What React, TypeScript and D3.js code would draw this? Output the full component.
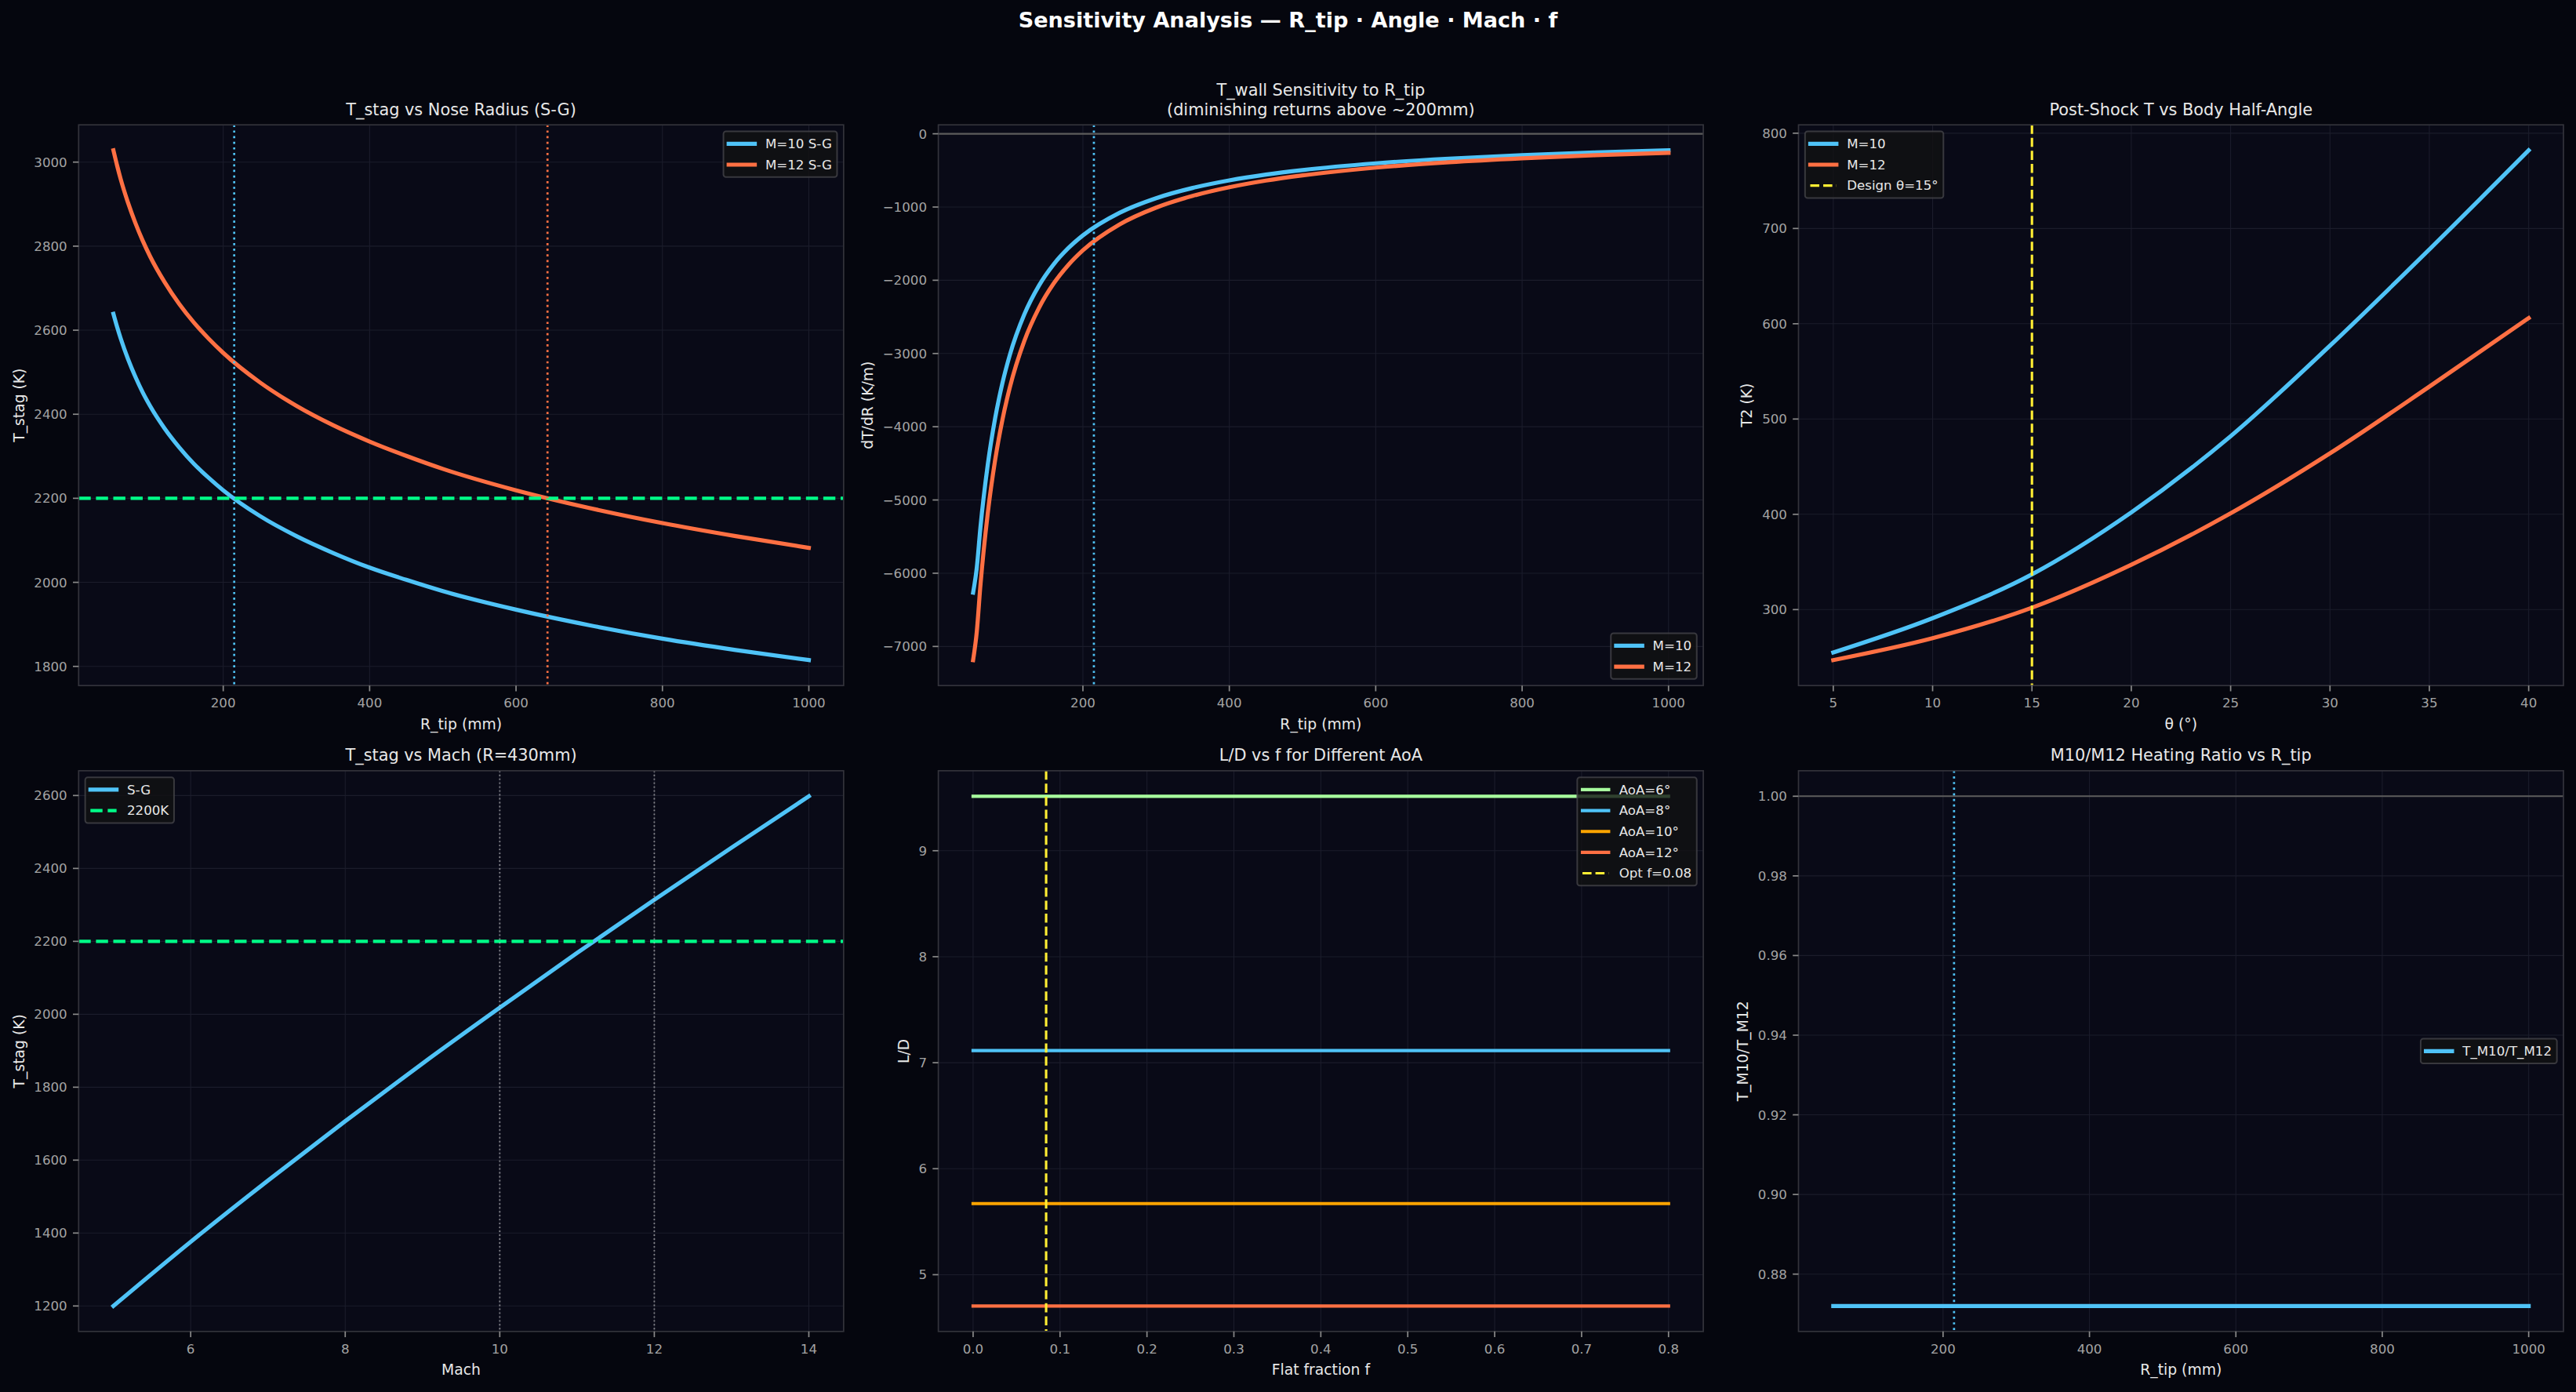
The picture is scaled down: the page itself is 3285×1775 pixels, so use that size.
import React from "react";
import * as d3 from "d3";

// nose radius sweep (mm) and stagnation temperature (K), Sutton-Graves
const rTipMm = [50, 55, 60, 70, 80, 90, 100, 120, 140, 160, 180, 200, 250, 300, 350, 400, 450, 500, 600, 700, 800, 900, 1000];
const tStagM10 = [2639, 2608, 2580, 2531, 2489, 2452, 2420, 2366, 2321, 2282, 2249, 2219, 2158, 2110, 2070, 2035, 2006, 1979, 1935, 1898, 1866, 1839, 1815];
const tStagM12 = [3028, 2992, 2959, 2903, 2855, 2813, 2776, 2714, 2662, 2618, 2580, 2546, 2476, 2420, 2374, 2335, 2301, 2270, 2219, 2177, 2141, 2110, 2082];

// wall temperature gradient dT/dR (K/m)
const dTdRM10 = [-6265, -5927, -5375, -4520, -3889, -3406, -3025, -2465, -2072, -1783, -1562, -1387, -1079, -879, -739, -636, -557, -495, -403, -339, -292, -255, -226];
const dTdRM12 = [-7186, -6800, -6165, -5184, -4461, -3907, -3470, -2827, -2377, -2045, -1792, -1591, -1238, -1008, -848, -730, -639, -568, -462, -389, -335, -293, -260];

// post-shock temperature vs body half-angle
const halfAngleDeg = [5, 10, 15, 20, 25, 30, 35, 40];
const t2M10 = [255, 291, 337, 402, 482, 577, 678, 782];
const t2M12 = [247, 270, 302, 347, 401, 464, 534, 606];

// stagnation temperature vs Mach at R = 430 mm
const machNumbers = [5, 6, 7, 8, 9, 10, 11, 12, 13, 14];
const tStagVsMach = [1200, 1376, 1544, 1707, 1865, 2018, 2168, 2314, 2457, 2598];

// L/D vs flat fraction for each angle of attack
const flatFraction = [0, 0.8];
const aoaDeg = [6, 8, 10, 12];
const liftToDrag = [9.514, 7.115, 5.671, 4.705];

// heating ratio M10 / M12
const ratioRMm = [50, 1000];
const heatingRatio = [0.872, 0.872];

// reference markers
const T_LIMIT = 2200;
const R_LIMIT_M10 = 215;
const R_LIMIT_M12 = 643;
const THETA_DESIGN = 15;
const F_OPT = 0.084;
const MACH_MARKS = [10, 12];

// tick values
const rTicks = [200, 400, 600, 800, 1000];
const tStagTicks = [1800, 2000, 2200, 2400, 2600, 2800, 3000];
const dTdRTicks = [-7000, -6000, -5000, -4000, -3000, -2000, -1000, 0];
const thetaTicks = [5, 10, 15, 20, 25, 30, 35, 40];
const t2Ticks = [300, 400, 500, 600, 700, 800];
const machTicks = [6, 8, 10, 12, 14];
const tMachTicks = [1200, 1400, 1600, 1800, 2000, 2200, 2400, 2600];
const fTicks = [0, 0.1, 0.2, 0.3, 0.4, 0.5, 0.6, 0.7, 0.8];
const ldTicks = [5, 6, 7, 8, 9];
const ratioTicks = [0.88, 0.9, 0.92, 0.94, 0.96, 0.98, 1.0];

// ---- styling ----
const FIG_W = 3285;
const FIG_H = 1775;
const FIG_BG = "#05060e";
const AX_BG = "#090a17";
const GRID = "#1b1c2b";
const SPINE = "#33333b";
const TICK_COLOR = "#8a8a8a";
const TICK_TEXT = "#a3a3a3";
const TEXT = "#e8e8e8";
const BLUE = "#4fc3f7";
const ORANGE = "#ff7043";
const GREEN = "#00ff88";
const YELLOW = "#ffee33";
const AOA_COLORS = ["#a8ff9e", BLUE, "#ffa500", ORANGE];
const FONT = '"DejaVu Sans", sans-serif';

const PT = 150 / 72;
const TICK_FS = 8 * PT;
const LABEL_FS = 9 * PT;
const TITLE_FS = 10 * PT;
const LEG_FS = 8 * PT;

const COL_X = [100.3, 1196.6, 2293.5];
const ROW_Y = [159.2, 982.8];
const AX_W = 975.5;
const AX_H = 715;

const measureCtx = document.createElement("canvas").getContext("2d");
function textWidth(s: string, size: number) {
  if (!measureCtx) return s.length * size * 0.6;
  measureCtx.font = `${size}px "DejaVu Sans"`;
  return measureCtx.measureText(s).width;
}

function padded(values: number[]): [number, number] {
  const [lo, hi] = d3.extent(values) as [number, number];
  const m = (hi - lo) * 0.05;
  return [lo - m, hi + m];
}

type Scale = d3.ScaleLinear<number, number>;

function linePath(xs: number[], ys: number[], x: Scale, y: Scale) {
  return (
    d3
      .line<number>()
      .x((_, i) => x(xs[i]))
      .y((d) => y(d))
      .curve(d3.curveMonotoneX)(ys) || ""
  );
}

type Stroke = { color: string; lw: number; dash?: "dashed" | "dotted"; opacity?: number };

function strokeProps(s: Stroke) {
  const w = s.lw * PT;
  let dasharray: string | undefined;
  if (s.dash === "dashed") dasharray = `${3.7 * w},${1.6 * w}`;
  if (s.dash === "dotted") dasharray = `${1 * w},${1.65 * w}`;
  return {
    stroke: s.color,
    strokeWidth: w,
    strokeDasharray: dasharray,
    strokeLinecap: (s.dash ? "butt" : "square") as "butt" | "square",
    strokeOpacity: s.opacity ?? 1,
    fill: "none",
  };
}

type LegendItem = Stroke & { label: string };
type LegendLoc = "upper right" | "upper left" | "lower right" | "center right";

function Legend({ loc, items }: { loc: LegendLoc; items: LegendItem[] }) {
  const pad = 0.4 * LEG_FS;
  const rowH = 18.3;
  const spacing = 0.5 * LEG_FS;
  const handleLen = 2 * LEG_FS;
  const textPad = 0.8 * LEG_FS;
  const axPad = 0.5 * LEG_FS;
  const tw = Math.max(...items.map((it) => textWidth(it.label, LEG_FS)));
  const w = 2 * pad + handleLen + textPad + tw;
  const h = 2 * pad + items.length * rowH + (items.length - 1) * spacing;
  const x0 = loc.endsWith("right") ? AX_W - axPad - w : axPad;
  const y0 = loc.startsWith("upper") ? axPad : loc.startsWith("lower") ? AX_H - axPad - h : (AX_H - h) / 2;
  return (
    <g transform={`translate(${x0},${y0})`}>
      <rect width={w} height={h} rx={3.3} fill="#111113" fillOpacity={0.8} stroke="#444448" strokeOpacity={0.8} strokeWidth={2} />
      {items.map((it, i) => {
        const cy = pad + i * (rowH + spacing) + rowH / 2;
        return (
          <g key={it.label}>
            <line x1={pad} x2={pad + handleLen} y1={cy} y2={cy} {...strokeProps(it)} />
            <text x={pad + handleLen + textPad} y={cy + 5.8} fontSize={LEG_FS} fill={TEXT}>
              {it.label}
            </text>
          </g>
        );
      })}
    </g>
  );
}

type PanelProps = {
  id: string;
  col: number;
  row: number;
  xDomain: [number, number];
  yDomain: [number, number];
  xTicks: number[];
  yTicks: number[];
  xFmt?: (v: number) => string;
  yFmt?: (v: number) => string;
  title: string[];
  xLabel: string;
  yLabel: string;
  legend: { loc: LegendLoc; items: LegendItem[] };
  draw: (x: Scale, y: Scale) => React.ReactNode;
};

const plain = (v: number) => (v < 0 ? "\u2212" + Math.abs(v) : String(v));

function Panel(p: PanelProps) {
  const x = d3.scaleLinear().domain(p.xDomain).range([0, AX_W]);
  const y = d3.scaleLinear().domain(p.yDomain).range([AX_H, 0]);
  const xFmt = p.xFmt ?? plain;
  const yFmt = p.yFmt ?? plain;
  const tickLen = 3.5 * PT;
  const tickPad = 3.5 * PT;
  const maxTickW = Math.max(...p.yTicks.map((t) => textWidth(yFmt(t), TICK_FS)));
  const yLabelX = -tickLen - tickPad - maxTickW - 4 * PT - 4.4;
  const clipId = `clip-${p.id}`;
  return (
    <g transform={`translate(${COL_X[p.col]},${ROW_Y[p.row]})`} fontFamily={FONT}>
      <rect width={AX_W} height={AX_H} fill={AX_BG} />
      <clipPath id={clipId}>
        <rect width={AX_W} height={AX_H} />
      </clipPath>
      {p.xTicks.map((t) => (
        <line key={"gx" + t} x1={x(t)} x2={x(t)} y1={0} y2={AX_H} stroke={GRID} strokeWidth={1.1} />
      ))}
      {p.yTicks.map((t) => (
        <line key={"gy" + t} x1={0} x2={AX_W} y1={y(t)} y2={y(t)} stroke={GRID} strokeWidth={1.1} />
      ))}
      <g clipPath={`url(#${clipId})`}>{p.draw(x, y)}</g>
      <rect width={AX_W} height={AX_H} fill="none" stroke={SPINE} strokeWidth={1.7} />
      {p.xTicks.map((t) => (
        <g key={"tx" + t}>
          <line x1={x(t)} x2={x(t)} y1={AX_H} y2={AX_H + tickLen} stroke={TICK_COLOR} strokeWidth={1.7} />
          <text x={x(t)} y={AX_H + 28} fontSize={TICK_FS} fill={TICK_TEXT} textAnchor="middle">
            {xFmt(t)}
          </text>
        </g>
      ))}
      {p.yTicks.map((t) => (
        <g key={"ty" + t}>
          <line x1={-tickLen} x2={0} y1={y(t)} y2={y(t)} stroke={TICK_COLOR} strokeWidth={1.7} />
          <text x={-tickLen - tickPad} y={y(t) + 6} fontSize={TICK_FS} fill={TICK_TEXT} textAnchor="end">
            {yFmt(t)}
          </text>
        </g>
      ))}
      {p.title.map((line, i) => (
        <text
          key={line}
          x={AX_W / 2}
          y={-12.5 - (p.title.length - 1 - i) * 1.2 * TITLE_FS}
          fontSize={TITLE_FS}
          fill={TEXT}
          textAnchor="middle"
        >
          {line}
        </text>
      ))}
      <text x={AX_W / 2} y={AX_H + 55.5} fontSize={LABEL_FS} fill={TEXT} textAnchor="middle">
        {p.xLabel}
      </text>
      <text
        transform={`translate(${yLabelX},${AX_H / 2}) rotate(-90)`}
        fontSize={LABEL_FS}
        fill={TEXT}
        textAnchor="middle"
      >
        {p.yLabel}
      </text>
      <Legend loc={p.legend.loc} items={p.legend.items} />
    </g>
  );
}

const curveM10: Stroke = { color: BLUE, lw: 2.5 };
const curveM12: Stroke = { color: ORANGE, lw: 2.5 };
const limitLine: Stroke = { color: GREEN, lw: 2, dash: "dashed" };
const designLine: Stroke = { color: YELLOW, lw: 1.5, dash: "dashed" };
const refLine: Stroke = { color: "#5c5c5c", lw: 1 };
const markM10: Stroke = { color: BLUE, lw: 1.3, dash: "dotted" };
const markM12: Stroke = { color: ORANGE, lw: 1.3, dash: "dotted" };

function VLine({ v, x, s }: { v: number; x: Scale; s: Stroke }) {
  return <line x1={x(v)} x2={x(v)} y1={0} y2={AX_H} {...strokeProps(s)} strokeLinecap="butt" />;
}
function HLine({ v, y, s }: { v: number; y: Scale; s: Stroke }) {
  return <line x1={0} x2={AX_W} y1={y(v)} y2={y(v)} {...strokeProps(s)} strokeLinecap="butt" />;
}

export default function App() {
  const rDomain = padded(rTipMm);
  return (
    <div style={{ position: "absolute", left: 0, top: 0 }}>
      <svg width={FIG_W} height={FIG_H} style={{ display: "block" }}>
        <rect width={FIG_W} height={FIG_H} fill={FIG_BG} />
        <text
          x={FIG_W / 2}
          y={35}
          fontFamily={FONT}
          fontWeight="bold"
          fontSize={13 * PT}
          fill="#ffffff"
          textAnchor="middle"
        >
          Sensitivity Analysis — R_tip · Angle · Mach · f
        </text>

        <Panel
          id="tstag-r"
          col={0}
          row={0}
          xDomain={rDomain}
          yDomain={padded([...tStagM10, ...tStagM12])}
          xTicks={rTicks}
          yTicks={tStagTicks}
          title={["T_stag vs Nose Radius (S-G)"]}
          xLabel="R_tip (mm)"
          yLabel="T_stag (K)"
          legend={{
            loc: "upper right",
            items: [
              { ...curveM10, label: "M=10 S-G" },
              { ...curveM12, label: "M=12 S-G" },
            ],
          }}
          draw={(x, y) => (
            <>
              <path d={linePath(rTipMm, tStagM10, x, y)} {...strokeProps(curveM10)} />
              <path d={linePath(rTipMm, tStagM12, x, y)} {...strokeProps(curveM12)} />
              <HLine v={T_LIMIT} y={y} s={limitLine} />
              <VLine v={R_LIMIT_M10} x={x} s={markM10} />
              <VLine v={R_LIMIT_M12} x={x} s={markM12} />
            </>
          )}
        />

        <Panel
          id="dtdr"
          col={1}
          row={0}
          xDomain={rDomain}
          yDomain={padded([...dTdRM10, ...dTdRM12])}
          xTicks={rTicks}
          yTicks={dTdRTicks}
          title={["T_wall Sensitivity to R_tip", "(diminishing returns above ~200mm)"]}
          xLabel="R_tip (mm)"
          yLabel="dT/dR (K/m)"
          legend={{
            loc: "lower right",
            items: [
              { ...curveM10, label: "M=10" },
              { ...curveM12, label: "M=12" },
            ],
          }}
          draw={(x, y) => (
            <>
              <path d={linePath(rTipMm, dTdRM10, x, y)} {...strokeProps(curveM10)} />
              <path d={linePath(rTipMm, dTdRM12, x, y)} {...strokeProps(curveM12)} />
              <HLine v={0} y={y} s={refLine} />
              <VLine v={R_LIMIT_M10} x={x} s={markM10} />
            </>
          )}
        />

        <Panel
          id="t2-theta"
          col={2}
          row={0}
          xDomain={padded(halfAngleDeg)}
          yDomain={padded([...t2M10, ...t2M12])}
          xTicks={thetaTicks}
          yTicks={t2Ticks}
          title={["Post-Shock T vs Body Half-Angle"]}
          xLabel="θ (°)"
          yLabel="T2 (K)"
          legend={{
            loc: "upper left",
            items: [
              { ...curveM10, label: "M=10" },
              { ...curveM12, label: "M=12" },
              { ...designLine, label: `Design θ=${THETA_DESIGN}°` },
            ],
          }}
          draw={(x, y) => (
            <>
              <path d={linePath(halfAngleDeg, t2M10, x, y)} {...strokeProps(curveM10)} />
              <path d={linePath(halfAngleDeg, t2M12, x, y)} {...strokeProps(curveM12)} />
              <VLine v={THETA_DESIGN} x={x} s={designLine} />
            </>
          )}
        />

        <Panel
          id="tstag-mach"
          col={0}
          row={1}
          xDomain={padded(machNumbers)}
          yDomain={padded(tStagVsMach)}
          xTicks={machTicks}
          yTicks={tMachTicks}
          title={["T_stag vs Mach (R=430mm)"]}
          xLabel="Mach"
          yLabel="T_stag (K)"
          legend={{
            loc: "upper left",
            items: [
              { ...curveM10, label: "S-G" },
              { ...limitLine, label: `${T_LIMIT}K` },
            ],
          }}
          draw={(x, y) => (
            <>
              <path d={linePath(machNumbers, tStagVsMach, x, y)} {...strokeProps(curveM10)} />
              <HLine v={T_LIMIT} y={y} s={limitLine} />
              {MACH_MARKS.map((m) => (
                <VLine key={m} v={m} x={x} s={{ color: "#d0d0d0", lw: 0.9, dash: "dotted", opacity: 0.6 }} />
              ))}
            </>
          )}
        />

        <Panel
          id="ld-f"
          col={1}
          row={1}
          xDomain={padded(flatFraction)}
          yDomain={padded(liftToDrag)}
          xTicks={fTicks}
          yTicks={ldTicks}
          xFmt={d3.format(".1f")}
          title={["L/D vs f for Different AoA"]}
          xLabel="Flat fraction f"
          yLabel="L/D"
          legend={{
            loc: "upper right",
            items: [
              ...aoaDeg.map((a, i) => ({ color: AOA_COLORS[i], lw: 2, label: `AoA=${a}°` })),
              { ...designLine, label: `Opt f=${F_OPT.toFixed(2)}` },
            ],
          }}
          draw={(x, y) => (
            <>
              {liftToDrag.map((ld, i) => (
                <path
                  key={aoaDeg[i]}
                  d={linePath(flatFraction, flatFraction.map(() => ld), x, y)}
                  {...strokeProps({ color: AOA_COLORS[i], lw: 2 })}
                />
              ))}
              <VLine v={F_OPT} x={x} s={designLine} />
            </>
          )}
        />

        <Panel
          id="ratio"
          col={2}
          row={1}
          xDomain={padded(ratioRMm.concat(rTipMm))}
          yDomain={padded([...heatingRatio, 1.0])}
          xTicks={rTicks}
          yTicks={ratioTicks}
          yFmt={d3.format(".2f")}
          title={["M10/M12 Heating Ratio vs R_tip"]}
          xLabel="R_tip (mm)"
          yLabel="T_M10/T_M12"
          legend={{ loc: "center right", items: [{ ...curveM10, label: "T_M10/T_M12" }] }}
          draw={(x, y) => (
            <>
              <path d={linePath(ratioRMm, heatingRatio, x, y)} {...strokeProps(curveM10)} />
              <HLine v={1.0} y={y} s={refLine} />
              <VLine v={R_LIMIT_M10} x={x} s={markM10} />
            </>
          )}
        />
      </svg>
    </div>
  );
}
